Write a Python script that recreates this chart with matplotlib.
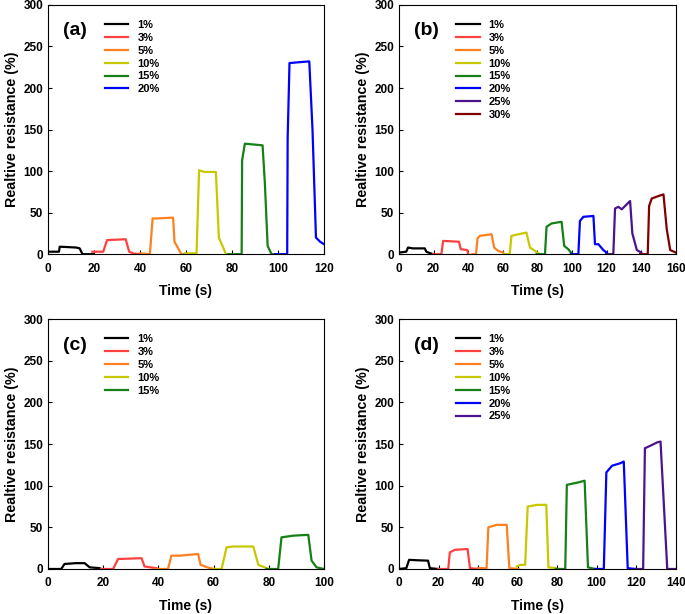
import numpy as np
import matplotlib
matplotlib.use('Agg')
import matplotlib.pyplot as plt

plt.rcParams['font.family'] = ['Liberation Sans', 'DejaVu Sans']
plt.rcParams['font.weight'] = 'bold'

colors = {'1%': '#000000', '3%': '#ff4040', '5%': '#ff8020', '10%': '#c8c800',
          '15%': '#158015', '20%': '#0000ff', '25%': '#4b148c', '30%': '#800000'}

# panel (a): (time, value) key points
a_t = {
    '1%': [0, 4.8, 5.1, 9, 12.3, 13.8, 15, 19.6],
    '3%': [19.3, 24, 25.7, 30, 33.8, 35.3, 37, 40],
    '5%': [40, 44.3, 45.5, 47, 54.4, 55, 58, 60],
    '10%': [59.5, 64.6, 65.7, 68, 73, 74.3, 77.4, 79],
    '15%': [78.4, 84.2, 84.4, 85.6, 93.3, 94.3, 95.5, 97.2, 98.7],
    '20%': [98.7, 104, 104.2, 105, 109, 113.6, 115, 116.5, 118.3, 120],
}
a_v = {
    '1%': [3, 3, 9, 8.5, 8, 7, 0, 0],
    '3%': [3, 3, 17, 17.5, 18, 3, 1, 0],
    '5%': [1, 0, 43, 43, 44, 15, 0, 0],
    '10%': [1, 1, 101, 99, 99, 20, 0, 0],
    '15%': [0, 0, 113, 133, 131, 85, 10, 0, 0],
    '20%': [0, 0, 140, 230, 231, 232, 150, 20, 15, 12],
}

# panel (b)
b_t = {
    '1%': [0, 4.2, 5.2, 8, 14.9, 15.8, 17, 19.7],
    '3%': [19.7, 24.5, 25.5, 30, 34.7, 35.7, 39.5, 40],
    '5%': [42.5, 44.5, 45.4, 46.7, 53.5, 55, 57.3, 60.2],
    '10%': [60.2, 64, 65, 69, 73.7, 75.7, 78.6, 80.5],
    '15%': [79.5, 84.4, 85.3, 88.2, 94, 95.5, 97.9, 99.8],
    '20%': [99.4, 103.7, 104.6, 106.6, 112.4, 113.3, 115.3, 118.1, 120],
    '25%': [119.7, 123.9, 124.9, 126.8, 128.8, 132.6, 133.6, 134.9, 137.5, 140],
    '30%': [139.4, 143.8, 144.6, 146.1, 150, 152.9, 154.8, 156.8, 160],
}
b_v = {
    '1%': [2, 3, 8, 7, 7, 3, 2, 0],
    '3%': [0, 0, 16, 15.5, 15, 6, 5, 0],
    '5%': [0, 0, 19, 22, 24, 8, 4, 2],
    '10%': [0, 0, 22, 24, 26, 8, 4, 1],
    '15%': [0, 0, 33, 37, 39, 10, 6, 1],
    '20%': [0, 0, 40, 45, 46, 12, 12, 5, 2],
    '25%': [0, 0, 55, 57, 54, 62, 64, 25, 5, 2],
    '30%': [0, 0, 58, 67, 70, 72, 30, 5, 2],
}

# panel (c)
c_t = {
    '1%': [0, 4.8, 6, 10, 13.3, 15.1, 18.7, 19.3],
    '3%': [19.3, 23.6, 25.4, 30, 33.9, 35, 39.3],
    '5%': [39, 43.5, 44.7, 47.7, 54.4, 55.3, 58.6, 60.5],
    '10%': [59.9, 62.9, 64.7, 67, 74.4, 76.2, 79.2],
    '15%': [79.2, 83.4, 84.6, 88.8, 94.3, 95.5, 97.3, 100],
}
c_v = {
    '1%': [0, 0, 6, 7, 7, 2, 1, 0],
    '3%': [0, 0, 12, 12.5, 13, 3, 1],
    '5%': [0, 0, 16, 16, 18, 5, 1, 0],
    '10%': [0, 0, 26, 27, 27, 5, 1],
    '15%': [0, 0, 38, 40, 41, 10, 2, 0],
}

# panel (d)
d_t = {
    '1%': [0, 3.7, 5.1, 9, 14.7, 15.6, 19.8],
    '3%': [19.8, 24.9, 25.7, 28.3, 34.7, 35.9, 40],
    '5%': [40, 44.3, 45.2, 49.4, 54.5, 55.8, 60.4],
    '10%': [59.6, 61.3, 63.8, 65.1, 70, 74.5, 75.6, 79.4],
    '15%': [79.4, 84.1, 84.9, 90.8, 93.9, 95.6, 99.3],
    '20%': [99.3, 103.6, 104.9, 107.8, 112, 113.7, 115.7, 119.6],
    '25%': [119.6, 123.5, 124.4, 127.2, 130.6, 132.3, 135.7, 140],
}
d_v = {
    '1%': [0, 1, 11, 10.5, 10, 1, 0],
    '3%': [0, 0, 20, 23, 24, 1, 0],
    '5%': [1, 1, 50, 53, 53, 1, 0],
    '10%': [3, 5, 5, 75, 77, 77, 2, 1],
    '15%': [0, 0, 101, 104, 106, 2, 0],
    '20%': [0, 0, 116, 124, 127, 129, 1, 0],
    '25%': [0, 0, 145, 148, 152, 153, 0, 0],
}

panels = [
    ('(a)', a_t, a_v, 120, [0.070, 0.586, 0.403, 0.406]),
    ('(b)', b_t, b_v, 160, [0.5825, 0.586, 0.404, 0.406]),
    ('(c)', c_t, c_v, 100, [0.070, 0.0733, 0.403, 0.407]),
    ('(d)', d_t, d_v, 140, [0.5825, 0.0733, 0.404, 0.407]),
]

fig = plt.figure(figsize=(6.85, 6.14), dpi=100)

for tag, ts, vs, xmax, pos in panels:
    ax = fig.add_axes(pos)
    for key in ts:
        ax.plot(ts[key], vs[key], color=colors[key], lw=1.6, label=key)
    ax.set_xlim(0, xmax)
    ax.set_ylim(0, 300)
    ax.set_xticks(np.arange(0, xmax + 1, 20))
    ax.set_yticks(np.arange(0, 301, 50))
    ax.tick_params(direction='in', length=3, labelsize=8.5, top=False, right=False)
    ax.tick_params(axis='x', pad=6)
    for lab in ax.get_xticklabels() + ax.get_yticklabels():
        lab.set_fontweight('bold')
    ax.set_xlabel('Time (s)', fontsize=10, fontweight='bold', labelpad=7)
    ax.set_ylabel('Realtive resistance (%)', fontsize=10.3, fontweight='bold', labelpad=3)
    ax.text(0.055, 0.93, tag, transform=ax.transAxes, fontsize=14, fontweight='bold', va='top')
    ax.legend(loc='upper left', bbox_to_anchor=(0.207, 0.94), frameon=False,
              prop={'size': 8, 'weight': 'bold'}, handlelength=2.1, labelspacing=0.26,
              handletextpad=0.8, borderaxespad=0, borderpad=0)

fig.savefig('out.png', dpi=100)
